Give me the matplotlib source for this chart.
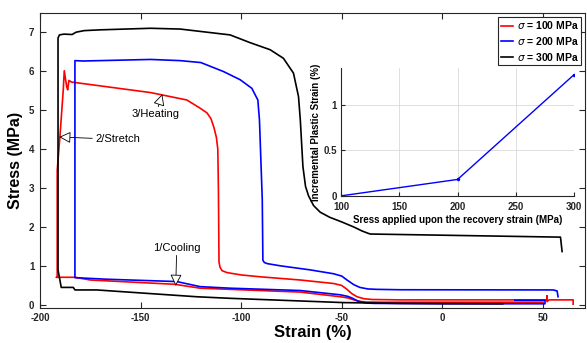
import matplotlib.pyplot as plt
import numpy as np

plt.rcParams['font.family'] = ['Liberation Sans', 'DejaVu Sans']
plt.rcParams['mathtext.fontset'] = 'dejavusans'
plt.rcParams['axes.unicode_minus'] = False

# sigma = 100 MPa loop (cooling, stretch, heating)
red_x = [50, 36, 0, -30, -38, -41, -44, -47, -50.7, -70.6, -105.5, -120.4, -133, -175, -182.6,
         -191.8, -191.4, -191.4, -190, -188.4, -187.9, -186.7, -186.2, -185.6, -184.3, -145,
         -127, -120.4, -117, -115, -113.5, -112.3, -111.6, -111.3, -111, -110.5, -109.5, -107,
         -100, -90, -70.6, -54, -50, -47.4, -45, -42.4, -39, -35, -21, 52, 52, 52, 53, 65, 65]
red_y = [0.07, 0.07, 0.07, 0.07, 0.075, 0.09, 0.13, 0.18, 0.21, 0.33, 0.40, 0.43, 0.53, 0.64, 0.71,
         0.71, 0.71, 3.46, 4.36, 5.52, 6.01, 5.6, 5.52, 5.76, 5.72, 5.45,
         5.26, 5.05, 4.93, 4.78, 4.55, 4.3, 4.0, 3.0, 1.1, 0.97, 0.88, 0.83,
         0.77, 0.72, 0.64, 0.55, 0.5, 0.40, 0.29, 0.21, 0.16, 0.14, 0.13, 0.13, 0.23, 0.085,
         0.13, 0.13, 0.02]

# sigma = 200 MPa loop
blue_x = [36, 51, 51, 0, -34, -38, -42, -45, -47, -50.7, -70.6, -105.5, -120.4, -132, -166.8,
          -182.6, -182.6, -182.6, -178.5, -145, -130.3, -120, -108.8, -100.5, -94.7, -91.7,
          -90.9, -89.5, -89.2, -88.5, -87, -80, -65.7, -54, -50, -47.4, -44, -41, -37, -32.5,
          -21, 55, 57, 57.5]
blue_y = [0.12, 0.12, 0.03, 0.03, 0.04, 0.05, 0.1, 0.18, 0.22, 0.26, 0.37, 0.43, 0.47, 0.60, 0.66,
          0.70, 0.70, 6.27, 6.26, 6.30, 6.27, 6.22, 5.99, 5.78, 5.56, 5.26,
          4.75, 2.7, 1.15, 1.09, 1.06, 1.0, 0.90, 0.80, 0.74, 0.64, 0.52, 0.45, 0.41, 0.40,
          0.39, 0.385, 0.36, 0.21]

# sigma = 300 MPa loop
black_x = [30, 0, -21, -49, -105.5, -122, -171.8, -182.6, -183.4, -189.4, -191, -191,
           -190.3, -188, -184, -182, -178, -170, -145, -130.3, -105.5, -95.5, -85.6, -79,
           -74, -71.5, -70.6, -69.3, -68, -66.5, -64, -60.7, -56, -50, -44, -40, -37,
           -35.8, 58.7, 59.5]
black_y = [0.03, 0.035, 0.04, 0.06, 0.17, 0.21, 0.385, 0.385, 0.45, 0.45, 0.9, 6.85,
           6.93, 6.95, 6.94, 7.0, 7.04, 7.06, 7.10, 7.08, 6.93, 6.73, 6.55, 6.33,
           5.95, 5.35, 4.75, 3.55, 3.04, 2.8, 2.55, 2.38, 2.25, 2.13, 2.0, 1.9, 1.84,
           1.82, 1.74, 1.37]

# inset: incremental plastic strain
inset_stress = [100, 200, 300]
inset_strain = [0.0, 0.18, 1.33]

axis_col = '#262626'

fig = plt.figure(figsize=(5.87, 3.43), dpi=100)
ax = fig.add_axes([0.068, 0.103, 0.929, 0.860])

ax.plot(red_x, red_y, color='#ff0000', lw=1.2, label=r'$\sigma$ = 100 MPa')
ax.plot(blue_x, blue_y, color='#0000ff', lw=1.2, label=r'$\sigma$ = 200 MPa')
ax.plot(black_x, black_y, color='black', lw=1.2, label=r'$\sigma$ = 300 MPa')

ax.set_xlim(-200, 71)
ax.set_ylim(-0.07, 7.5)
ax.set_xticks([-200, -150, -100, -50, 0, 50])
ax.set_yticks(range(0, 8))
ax.tick_params(direction='in', length=4, width=0.8, labelsize=7, top=True, right=True,
               colors=axis_col, pad=4)
for lab in ax.get_xticklabels() + ax.get_yticklabels():
    lab.set_fontweight('bold')
for sp in ax.spines.values():
    sp.set_color(axis_col)
    sp.set_linewidth(0.8)
ax.set_xlabel('Strain (%)', fontsize=12, fontweight='bold', labelpad=1)
ax.set_ylabel('Stress (MPa)', fontsize=11.5, fontweight='bold', labelpad=4)

leg = ax.legend(loc='upper right', prop={'weight': 'bold', 'size': 7.5},
                handlelength=1.2, handletextpad=0.3, borderpad=0.25, labelspacing=0.35,
                borderaxespad=0.4, fancybox=False, framealpha=1, edgecolor=axis_col)
leg.get_frame().set_linewidth(0.8)

arrow = dict(arrowstyle='-|>,head_length=0.7,head_width=0.35', fc='white', ec='black',
             lw=0.6, mutation_scale=10, shrinkA=0, shrinkB=0)
ax.annotate('3/Heating', xy=(-139.2, 5.41), xytext=(-142.4, 4.89), fontsize=8,
            ha='center', va='center', arrowprops=arrow)
ax.annotate('2/Stretch', xy=(-190.4, 4.31), xytext=(-172.6, 4.25), fontsize=8,
            ha='left', va='center', arrowprops=arrow)
ax.annotate('1/Cooling', xy=(-132.5, 0.49), xytext=(-132, 1.47), fontsize=8,
            ha='center', va='center', arrowprops=arrow)

# inset
ins = fig.add_axes([0.581, 0.429, 0.397, 0.372])
ins.plot(inset_stress, inset_strain, color='#0000ff', lw=1.0, marker='.', markersize=3)
ins.set_xlim(100, 300)
ins.set_ylim(0, 1.4)
ins.set_xticks([100, 150, 200, 250, 300])
ins.set_yticks([0, 0.5, 1])
ins.set_yticklabels(['0', '0.5', '1'])
ins.grid(True, color='#d9d9d9', lw=0.6)
ins.set_axisbelow(True)
ins.spines['top'].set_visible(False)
ins.spines['right'].set_visible(False)
for sp in ins.spines.values():
    sp.set_color(axis_col)
    sp.set_linewidth(0.8)
ins.tick_params(direction='in', length=3, width=0.8, labelsize=7, colors=axis_col)
ins.tick_params(axis='x', pad=4.5)
ins.tick_params(axis='y', pad=3)
for lab in ins.get_xticklabels() + ins.get_yticklabels():
    lab.set_fontweight('bold')
ins.set_xlabel('Sress applied upon the recovery strain (MPa)', fontsize=7,
               fontweight='bold', labelpad=2)
ins.set_ylabel('Incremental Plastic Strain (%)', fontsize=7, fontweight='bold', labelpad=2)

fig.savefig('out.png', dpi=100)
